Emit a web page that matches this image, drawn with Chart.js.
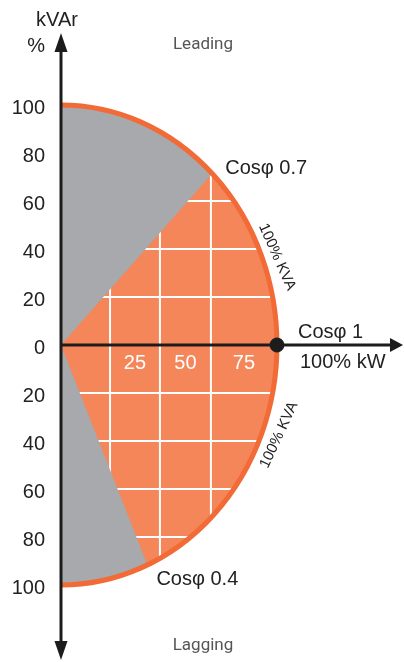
<!DOCTYPE html>
<html>
<head>
<meta charset="utf-8">
<script src="https://cdn.jsdelivr.net/npm/chart.js@4/dist/chart.umd.min.js"></script>
<style>
  html, body { margin: 0; padding: 0; background: #fff; }
  #wrap { width: 404px; height: 662px; }
</style>
</head>
<body>
<div id="wrap"><canvas id="c"></canvas></div>
<script>
// values
const kvaLimit = 100;                 // 100% kVA circle
const cosLeading = 0.7;               // leading power factor limit
const cosLagging = 0.4;               // lagging power factor limit
const kvarTicks = [100, 80, 60, 40, 20, 0, -20, -40, -60, -80, -100];
const kvarGrid = [80, 60, 40, 20, -20, -40, -60, -80];
const kwGrid = [22.7, 45.8, 69.4];
const kwTickLabels = ["25", "50", "75"];
const ratedPoint = [{ x: 100, y: 0 }];

const orangeFill = "#f4865a";
const orangeLine = "#f26a35";
const greyFill = "#a7a9ac";
const axisColor = "#1c1c1c";
const textColor = "#222";
const mainFont = "20px 'Liberation Sans', Arial, sans-serif";

function arrow(ctx, x1, y1, x2, y2, len, half) {
    const a = Math.atan2(y2 - y1, x2 - x1);
    ctx.beginPath();
    ctx.moveTo(x2, y2);
    ctx.lineTo(x2 - len * Math.cos(a) + half * Math.sin(a), y2 - len * Math.sin(a) - half * Math.cos(a));
    ctx.lineTo(x2 - len * Math.cos(a) - half * Math.sin(a), y2 - len * Math.sin(a) + half * Math.cos(a));
    ctx.closePath();
    ctx.fill();
}

const capabilityPlugin = {
    id: "capability",
    beforeDatasetsDraw(chart) {
        const ctx = chart.ctx;
        const xs = chart.scales.x, ys = chart.scales.y;
        const cx = xs.getPixelForValue(0), cy = ys.getPixelForValue(0);
        const rx = xs.getPixelForValue(kvaLimit) - cx;
        const ry = cy - ys.getPixelForValue(kvaLimit);
        const phiLead = Math.acos(cosLeading);
        const phiLag = Math.acos(cosLagging);

        ctx.save();
        // whole half disc, grey
        ctx.beginPath();
        ctx.moveTo(cx, cy);
        ctx.ellipse(cx, cy, rx, ry, 0, -Math.PI / 2, Math.PI / 2);
        ctx.closePath();
        ctx.fillStyle = greyFill;
        ctx.fill();

        // allowed operating area, orange sector
        ctx.beginPath();
        ctx.moveTo(cx, cy);
        ctx.ellipse(cx, cy, rx, ry, 0, -phiLead, phiLag);
        ctx.closePath();
        ctx.fillStyle = orangeFill;
        ctx.fill();

        // white grid inside the sector
        ctx.save();
        ctx.clip();
        ctx.strokeStyle = "#fff";
        ctx.lineWidth = 2;
        kvarGrid.forEach(v => {
            const y = ys.getPixelForValue(v);
            ctx.beginPath();
            ctx.moveTo(cx, y);
            ctx.lineTo(cx + rx + 5, y);
            ctx.stroke();
        });
        kwGrid.forEach(v => {
            const x = xs.getPixelForValue(v);
            ctx.beginPath();
            ctx.moveTo(x, cy - ry - 5);
            ctx.lineTo(x, cy + ry + 5);
            ctx.stroke();
        });
        ctx.restore();

        // 100% kVA boundary
        ctx.beginPath();
        ctx.ellipse(cx, cy, rx, ry, 0, -Math.PI / 2, Math.PI / 2);
        ctx.strokeStyle = orangeLine;
        ctx.lineWidth = 5;
        ctx.stroke();

        // axes
        ctx.strokeStyle = axisColor;
        ctx.fillStyle = axisColor;
        ctx.lineWidth = 3;
        ctx.beginPath();
        ctx.moveTo(cx, 45);
        ctx.lineTo(cx, 648);
        ctx.stroke();
        arrow(ctx, cx, cy, cx, 33, 19, 6.5);
        arrow(ctx, cx, cy, cx, 660, 19, 6.5);
        ctx.beginPath();
        ctx.moveTo(cx, cy);
        ctx.lineTo(392, cy);
        ctx.stroke();
        arrow(ctx, cx, cy, 403, cy, 13, 7);

        // kVAr tick labels
        ctx.font = mainFont;
        ctx.fillStyle = textColor;
        ctx.textAlign = "right";
        ctx.textBaseline = "middle";
        kvarTicks.forEach(v => {
            ctx.fillText(String(Math.abs(v)), cx - 16, ys.getPixelForValue(v) + 3);
        });
        ctx.fillText("%", cx - 16, 46);
        ctx.textAlign = "center";
        ctx.fillText("kVAr", cx - 4, 20);

        // kW tick labels, centred in their grid cells
        ctx.fillStyle = "#fff";
        const edges = kwGrid.concat([kvaLimit]);
        kwTickLabels.forEach((t, i) => {
            const x = (xs.getPixelForValue(edges[i]) + xs.getPixelForValue(edges[i + 1])) / 2;
            ctx.fillText(t, x, cy + 18);
        });

        // annotations
        ctx.fillStyle = textColor;
        ctx.textAlign = "left";
        const leadX = xs.getPixelForValue(kvaLimit * cosLeading);
        const leadY = ys.getPixelForValue(kvaLimit * Math.sin(phiLead));
        ctx.fillText("Cosφ " + cosLeading, leadX + 13, leadY - 5);
        const lagX = xs.getPixelForValue(kvaLimit * cosLagging);
        const lagY = ys.getPixelForValue(-kvaLimit * Math.sin(phiLag));
        ctx.fillText("Cosφ " + cosLagging, lagX + 9, lagY + 15);
        ctx.fillText("Cosφ 1", cx + rx + 21, cy - 13);
        ctx.fillText("100% kW", cx + rx + 23, cy + 17);

        ctx.font = "15px 'Liberation Sans', Arial, sans-serif";
        ctx.textAlign = "center";
        ctx.save();
        ctx.translate(277, 257);
        ctx.rotate(66 * Math.PI / 180);
        ctx.fillText("100% KVA", 0, 0);
        ctx.restore();
        ctx.save();
        ctx.translate(279, 435);
        ctx.rotate(-65 * Math.PI / 180);
        ctx.fillText("100% KVA", 0, 0);
        ctx.restore();

        ctx.font = "17px Roboto, 'Liberation Sans', sans-serif";
        ctx.fillStyle = "#555";
        ctx.fillText("Leading", 203, 45);
        ctx.fillText("Lagging", 203, 646);
        ctx.restore();
    }
};

// scale ranges chosen so that 0 kW sits at x=61 and 0 kVAr at y=345
const pxPerKw = 2.16, pxPerKvar = 2.4;
const xMin = -61 / pxPerKw, xMax = xMin + 404 / pxPerKw;
const yMax = 345 / pxPerKvar, yMin = yMax - 662 / pxPerKvar;

new Chart(document.getElementById("c"), {
    type: "scatter",
    data: {
        datasets: [{
            data: ratedPoint,
            backgroundColor: axisColor,
            borderColor: axisColor,
            pointRadius: 7,
            pointHoverRadius: 7
        }]
    },
    options: {
        responsive: true,
        maintainAspectRatio: false,
        animation: { duration: 0 },
        events: [],
        layout: { padding: 0, autoPadding: false },
        plugins: {
            legend: { display: false },
            title: { display: false },
            tooltip: { enabled: false }
        },
        scales: {
            x: { type: "linear", min: xMin, max: xMax, display: false },
            y: { type: "linear", min: yMin, max: yMax, display: false }
        }
    },
    plugins: [capabilityPlugin]
});
</script>
</body>
</html>
